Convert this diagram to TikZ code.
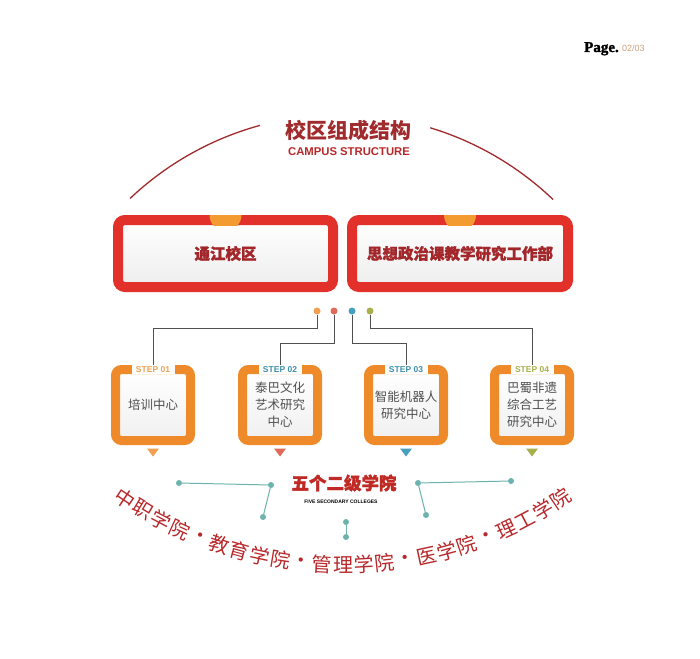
\documentclass[tikz,border=0pt]{standalone}
\usepackage{fontspec}
\setmainfont{Liberation Sans}
\newfontfamily\cjk{Noto Sans CJK SC}
\newfontfamily\cjkheavy{Noto Sans CJK SC}[FakeBold=1.6]
\newfontfamily\serifb{Liberation Serif}[FakeBold=1.5]
\usetikzlibrary{backgrounds}
\definecolor{boxred}{HTML}{E2302A}
\definecolor{darkred}{HTML}{A3262A}
\definecolor{titlered}{HTML}{A02A2C}
\definecolor{subred}{HTML}{B8282A}
\definecolor{stepor}{HTML}{EF8A2A}
\definecolor{semior}{HTML}{F39A30}
\definecolor{dotor}{HTML}{F0A050}
\definecolor{dotred}{HTML}{E06A58}
\definecolor{dotblue}{HTML}{48A0C0}
\definecolor{dotgreen}{HTML}{A8B04C}
\definecolor{lblblue}{HTML}{3E8FA8}
\definecolor{tealc}{HTML}{6BB3AC}
\definecolor{txtgray}{HTML}{505050}
\definecolor{pagetan}{HTML}{C9A07E}
\begin{document}
\begin{tikzpicture}[x=1pt,y=-1pt,
  bigbox/.style={draw=boxred, line width=10pt, rounded corners=7pt,
    top color=white, bottom color=black!7,
    minimum height=67pt, inner sep=0pt,
    font=\cjkheavy\bfseries\fontsize{15.5}{18}\selectfont, text=darkred},
  stepframe/.style={draw=stepor, line width=9pt, rounded corners=6pt,
    top color=white, bottom color=black!6,
    minimum width=75pt, minimum height=71pt, inner sep=0pt, align=center,
    font=\cjk\fontsize{12.5}{17}\selectfont, text=txtgray},
  steplabel/.style={fill=white, inner sep=0pt, minimum width=43pt, minimum height=9pt,
    font=\bfseries\fontsize{8.5}{9}\selectfont},
  dotnode/.style={circle, inner sep=0pt, minimum size=7pt},
  tdot/.style={circle, fill=tealc, inner sep=0pt, minimum size=6pt},
  conn/.style={draw=txtgray, line width=0.8pt},
  tline/.style={draw=tealc, line width=1pt},
  arcchar/.style={font=\cjk\fontsize{20}{20}\selectfont, text=subred, inner sep=0pt},
  toparc/.style={draw=titlered, line width=1.3pt, samples=40}
]
\useasboundingbox (0,0) rectangle (700,658);

% page mark
\node[font=\serifb\bfseries\fontsize{15}{15}\selectfont, anchor=base west, inner sep=0pt] (page) at (584,52) {Page.};
\node[font=\fontsize{9}{9}\selectfont, text=pagetan, anchor=base west, inner sep=0pt] (pg) at ([xshift=3pt]page.base east) {02/03};

% title
\node[font=\cjk\bfseries\fontsize{21}{21}\selectfont, text=titlered] (title) at (348,130) {校区组成结构};
\node[font=\bfseries\fontsize{11.3}{12}\selectfont, text=subred] (sub) at (349,152) {CAMPUS STRUCTURE};
\draw[toparc, domain=105.3:133.4] plot ({341+307*cos(\x)},{421.5-307*sin(\x)});
\draw[toparc, domain=46.3:73.1] plot ({341+307*cos(\x)},{421.5-307*sin(\x)});

% big boxes
\node[bigbox, minimum width=215pt] (b1) at (225.5,253.5) {\raisebox{-2pt}{通江校区}};
\node[bigbox, minimum width=216pt] (b2) at (460,253.5) {\raisebox{-2pt}{思想政治课教学研究工作部}};
\begin{scope}
  \clip (113,215) rectangle (573,225);
  \fill[semior] (b1.north) circle[radius=16pt];
  \fill[semior] (b2.north) circle[radius=16pt];
\end{scope}

% dots
\node[dotnode, fill=dotor] (d1) at (317,311) {};
\node[dotnode, fill=dotred] (d2) at (334,311) {};
\node[dotnode, fill=dotblue] (d3) at (352,311) {};
\node[dotnode, fill=dotgreen] (d4) at (370,311) {};

% step frames
\node[stepframe] (s1) at (153,405) {培训中心};
\node[stepframe] (s2) at (280,405) {泰巴文化\\艺术研究\\中心};
\node[stepframe] (s3) at (406,405) {智能机器人\\研究中心};
\node[stepframe] (s4) at (532,405) {巴蜀非遗\\综合工艺\\研究中心};

\node[steplabel, text=dotor] (l1) at ([yshift=-4.5pt]s1.north) {STEP 01};
\node[steplabel, text=lblblue] (l2) at ([yshift=-4.5pt]s2.north) {STEP 02};
\node[steplabel, text=lblblue] (l3) at ([yshift=-4.5pt]s3.north) {STEP 03};
\node[steplabel, text=dotgreen] (l4) at ([yshift=-4.5pt]s4.north) {STEP 04};

\foreach \s/\c in {s1/dotor, s2/dotred, s3/dotblue, s4/dotgreen}{
  \fill[\c] ([xshift=-6pt,yshift=-3.5pt]\s.south) -- ([xshift=6pt,yshift=-3.5pt]\s.south)
    -- ([yshift=-11.5pt]\s.south) -- cycle;
}

\begin{pgfonlayer}{background}
\draw[conn] (d1) -- ++(0,17) -| (s1.north);
\draw[conn] (d2) -- ++(0,32) -| (s2.north);
\draw[conn] (d3) -- ++(0,32) -| (s3.north);
\draw[conn] (d4) -- ++(0,17) -| (s4.north);
\end{pgfonlayer}

% five colleges
\node[font=\cjkheavy\bfseries\fontsize{17.5}{18}\selectfont, text=boxred!85!black] (five) at (344,483) {五个二级学院};
\node[font=\bfseries\fontsize{5}{5}\selectfont, text=black] (fivesub) at (341,502) {FIVE SECONDARY COLLEGES};

\node[tdot] (t1) at (179,483) {};
\node[tdot] (t2) at (271,485) {};
\node[tdot] (t3) at (263,517) {};
\node[tdot] (t4) at (418,483) {};
\node[tdot] (t5) at (511,481) {};
\node[tdot] (t6) at (426,515) {};
\node[tdot] (t7) at (346,522) {};
\node[tdot] (t8) at (346,537) {};
\draw[tline] (t1) -- (t2);
\draw[tline] (t2) -- (t3);
\draw[tline] (t4) -- (t5);
\draw[tline] (t4) -- (t6);
\draw[tline] (t7) -- (t8);

% curved college names
\foreach \ch [count=\i from 0] in {中,职,学,院,·,教,育,学,院,·,管,理,学,院,·,医,学,院,·,理,工,学,院}{
  \pgfmathsetmacro\ang{(11-\i)*3.08}
  \node[arcchar, rotate=-\ang] (c\i) at ({343-391*sin(\ang)},{174+391*cos(\ang)}) {\ch};
}
\end{tikzpicture}
\end{document}
